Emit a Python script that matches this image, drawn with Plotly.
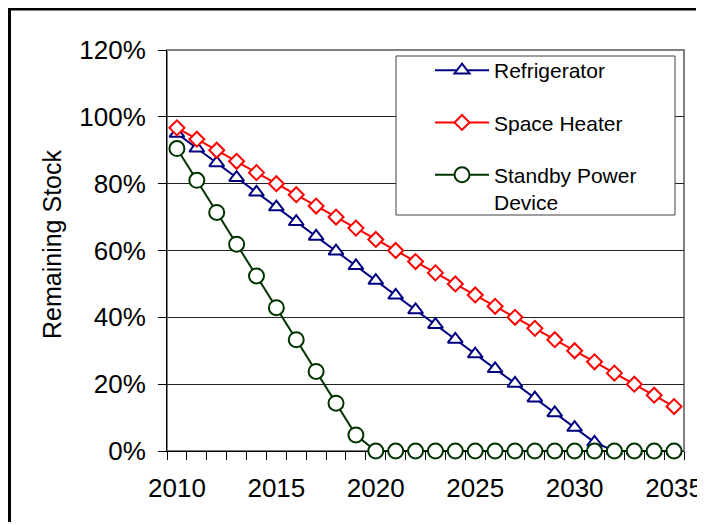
import plotly.graph_objects as go

# stock remaining by year (% of initial)
years = list(range(2010, 2036))

refrigerator = [95.0, 90.6, 86.2, 81.8, 77.4, 73.0, 68.6, 64.2, 59.8, 55.4,
                51.0, 46.6, 42.2, 37.8, 33.4, 29.0, 24.6, 20.2, 15.8, 11.4,
                7.0, 2.6, 0, 0, 0, 0]
space_heater = [96.7, 93.3, 90.0, 86.7, 83.3, 80.0, 76.7, 73.3, 70.0, 66.7,
                63.3, 60.0, 56.7, 53.3, 50.0, 46.7, 43.3, 40.0, 36.7, 33.3,
                30.0, 26.7, 23.3, 20.0, 16.7, 13.3]
standby = [90.5, 81.0, 71.4, 61.9, 52.4, 42.9, 33.3, 23.8, 14.3, 4.8,
           0, 0, 0, 0, 0, 0, 0, 0, 0, 0, 0, 0, 0, 0, 0, 0]

x_labels = [2010, 2015, 2020, 2025, 2030, 2035]
y_ticks = [0, 20, 40, 60, 80, 100, 120]
y_labels = ["0%", "20%", "40%", "60%", "80%", "100%", "120%"]

FONT = "Arial, Liberation Sans, sans-serif"

# page puts the figure 8px in from the window corner
OFF = 8
W, H = 705, 525
L, R, T, B = 159, 29, 42, 82
pw, ph = W - L - R, H - T - B


def px(x):  # window pixel -> paper x
    return (x - OFF - L) / pw


def py(y):  # window pixel -> paper y
    return (H - B - (y - OFF)) / ph


series = [
    ("Refrigerator", refrigerator, "#000080", "triangle-up", 13),
    ("Space Heater", space_heater, "#FF0000", "diamond", 11.5),
    ("Standby Power<br>Device", standby, "#003300", "circle", 15),
]

fig = go.Figure()
for i, (name, vals, col, sym, size) in enumerate(series):
    fig.add_trace(go.Scatter(
        x=years, y=vals, name=name, mode="lines+markers",
        line=dict(color=col, width=2),
        marker=dict(symbol=sym, size=size, color="white",
                    line=dict(color=col, width=2)),
        cliponaxis=False, legendgroup="g%d" % i,
    ))

fig.update_layout(
    width=W, height=H,
    margin=dict(l=L, r=R, t=T, b=B, autoexpand=False),
    paper_bgcolor="white", plot_bgcolor="white",
    font=dict(family=FONT, size=26, color="black"),
    legend=dict(
        x=px(430), y=py(50), xanchor="left", yanchor="top",
        bgcolor="rgba(0,0,0,0)", borderwidth=0,
        font=dict(size=21), traceorder="grouped", tracegroupgap=22,
        valign="top", itemwidth=54,
    ),
    xaxis=dict(
        range=[2009.5, 2035.5], tickmode="array", tickvals=x_labels,
        ticks="", showgrid=False, zeroline=False,
        showline=True, linecolor="black", linewidth=1,
        ticklabelstandoff=14, layer="below traces",
        minor=dict(tick0=2009.5, dtick=1, ticks="outside", ticklen=8,
                   tickcolor="black", tickwidth=1),
    ),
    yaxis=dict(
        range=[0, 120], tickmode="array", tickvals=y_ticks, ticktext=y_labels,
        ticks="outside", ticklen=8, tickcolor="black",
        showgrid=True, gridcolor="#222222", gridwidth=1, zeroline=False,
        showline=True, linecolor="black", linewidth=1,
        ticklabelstandoff=7, layer="below traces",
    ),
    shapes=[
        # plot area frame
        dict(type="rect", xref="paper", yref="paper", x0=0, x1=1, y0=0, y1=1,
             line=dict(color="#808080", width=2), layer="below"),
        # legend box
        dict(type="rect", xref="paper", yref="paper",
             x0=px(396), x1=px(675), y0=py(215), y1=py(56),
             line=dict(color="#404040", width=1), fillcolor="white",
             layer="above"),
        # outer chart border: left and top edges
        dict(type="line", xref="paper", yref="paper",
             x0=px(9.5), x1=px(9.5), y0=py(522), y1=py(7.5),
             line=dict(color="black", width=3), layer="above"),
        dict(type="line", xref="paper", yref="paper",
             x0=px(8), x1=px(696), y0=py(9), y1=py(9),
             line=dict(color="black", width=3), layer="above"),
    ],
    annotations=[
        dict(text="Remaining Stock", textangle=-90, xref="paper", yref="paper",
             x=px(52), y=py(245), xanchor="center", yanchor="middle",
             showarrow=False, font=dict(size=25)),
    ],
)

fig.write_html("out.html")
